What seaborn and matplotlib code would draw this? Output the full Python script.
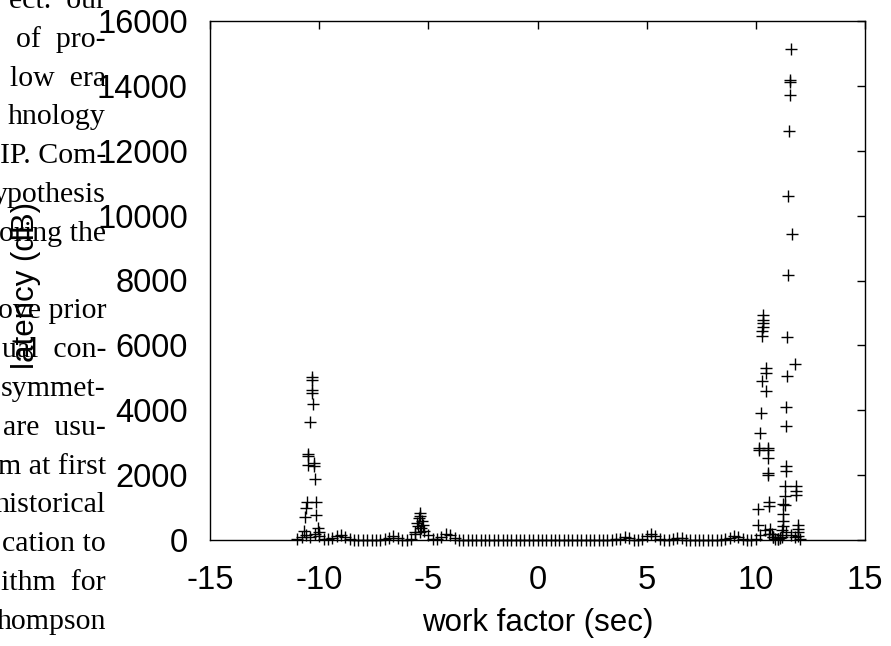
import matplotlib
matplotlib.use("Agg")
import matplotlib.pyplot as plt
import seaborn as sns
import pandas as pd

# ---------------- data ----------------
base_x = [-11.0, -10.8, -10.6, -10.4, -10.2, -10.0, -9.8, -9.6, -9.4, -9.2,
          -9.0, -8.8, -8.6, -8.4, -8.2, -8.0, -7.8, -7.6, -7.4, -7.2,
          -7.0, -6.8, -6.6, -6.4, -6.2, -6.0, -5.8, -5.6, -5.4, -5.2,
          -5.0, -4.8, -4.6, -4.4, -4.2, -4.0, -3.8, -3.6, -3.4, -3.2,
          -3.0, -2.8, -2.6, -2.4, -2.2, -2.0, -1.8, -1.6, -1.4, -1.2,
          -1.0, -0.8, -0.6, -0.4, -0.2, 0.0, 0.2, 0.4, 0.6, 0.8,
          1.0, 1.2, 1.4, 1.6, 1.8, 2.0, 2.2, 2.4, 2.6, 2.8,
          3.0, 3.2, 3.4, 3.6,
          3.8, 4.0, 4.2, 4.4, 4.6, 4.8, 5.0, 5.2, 5.4, 5.6,
          5.8, 6.0, 6.2, 6.4, 6.6, 6.8, 7.0, 7.2, 7.4, 7.6,
          7.8, 8.0, 8.2, 8.4, 8.6, 8.8, 9.0, 9.2, 9.4, 9.6,
          9.8, 10.0, 10.2, 10.4, 10.6, 10.8, 11.0, 11.2, 11.4, 11.6,
          11.8, 12.0]
base_y = [20, 80, 150, 100, 200, 120, 40, 20, 60, 130,
          150, 80, 20, 5, 0, 5, 0, 5, 0, 10,
          20, 70, 120, 60, 10, 0, 40, 180, 250, 280,
          150, 40, 30, 90, 170, 140, 50, 10, 0, 5,
          0, 5, 0, 5, 0, 10, 0, 5, 0, 5,
          0, 5, 0, 5, 0, 10, 0, 5, 0, 5,
          0, 5, 0, 5, 0, 10, 0, 5, 0, 5,
          0, 5, 10, 20,
          40, 80, 50, 10, 0, 40, 110, 170, 120, 40,
          10, 0, 30, 70, 50, 10, 0, 5, 0, 5,
          0, 5, 0, 10, 20, 60, 120, 80, 30, 10,
          10, 30, 150, 300, 200, 100, 30, 80, 250, 150,
          80, 40]

left_x = [-10.35, -10.35, -10.33, -10.35, -10.29, -10.42, -10.50, -10.50, -10.51, -10.24,
          -10.24, -10.20, -10.57, -10.13, -10.61, -10.65, -10.13, -10.70, -10.04, -10.02]
left_y = [5025, 4933, 4625, 4532, 4193, 3647, 2651, 2590, 2312, 2365,
          2281, 1871, 1181, 1181, 977, 700, 771, 287, 361, 256]

mid_x = [-5.37, -5.45, -5.29, -5.52, -5.24, -5.59, -5.40, -5.33, -5.48]
mid_y = [823, 669, 596, 514, 462, 256, 740, 380, 420]

right_x = [11.61, 11.57, 11.57, 11.55, 11.52, 11.47, 11.67, 11.47, 11.44, 11.79, 11.42,
           10.31, 10.31, 10.31, 10.31, 10.30, 10.30, 10.46, 10.46, 10.27, 10.46,
           10.23, 10.20, 10.16, 10.54, 10.16, 10.54, 10.58, 10.58, 10.58, 10.12,
           10.61, 10.61, 10.11,
           11.40, 11.38, 11.38, 11.38, 11.33, 11.32, 11.26, 11.26, 11.26, 11.33, 11.24, 11.22,
           11.86, 11.86, 11.86, 11.94, 11.94, 11.94, 11.94,
           10.65, 10.72, 10.80, 10.90, 11.00, 11.10, 11.18]
right_y = [15141, 14170, 14117, 13731, 12597, 10593, 9437, 8170, 6243, 5417, 5056,
           6924, 6795, 6684, 6573, 6440, 6299, 5306, 5142, 4890, 4594,
           3909, 3293, 2830, 2830, 2780, 2760, 2521, 2059, 2004, 959,
           1178, 1036, 462,
           4097, 3515, 2281, 2115, 1652, 1344, 1122, 792, 573, 1093, 420, 300,
           1652, 1511, 1400, 462, 350, 245, 132,
           350, 200, 100, 40, 20, 60, 150]

x_ticks = [-15, -10, -5, 0, 5, 10, 15]
y_ticks = [0, 2000, 4000, 6000, 8000, 10000, 12000, 14000, 16000]
x_label = "work factor (sec)"
y_label = "latency (dB)"

side_text = ["ect.  our", "of  pro-", "low  era", "hnology", "IP. Com-",
             "ypothesis", "oring the", "", "ove prior", "ual  con-",
             "symmet-", "are  usu-", "m at first", "historical", "cation to",
             "ithm  for", "hompson"]

# ---------------- plot ----------------
sns.set_theme(style="white")
plt.rcParams['font.family'] = ['Liberation Sans', 'DejaVu Sans']

W, H = 891, 646
fig = plt.figure(figsize=(W / 100, H / 100), dpi=100)
fig.patch.set_facecolor("white")

# background paper text (cut off at the left edge)
for i, line in enumerate(side_text):
    if not line:
        continue
    base = 8 + 38.8 * i
    fig.text(106 / W, 1 - base / H, line, ha="right", va="baseline",
             fontsize=21.5, family=["Liberation Serif", "DejaVu Serif"], color="black")

ax = fig.add_axes([210 / W, 1 - 540 / H, 655 / W, 519 / H])
ax.set_facecolor("none")

df = pd.DataFrame({"x": base_x + left_x + mid_x + right_x,
                   "y": base_y + left_y + mid_y + right_y})
sns.scatterplot(data=df, x="x", y="y", marker="+", color="black", s=75,
                linewidth=1.0, ax=ax, legend=False, clip_on=False, zorder=3)

ax.set_xlim(-15, 15)
ax.set_ylim(0, 16000)
ax.set_xticks(x_ticks)
ax.set_yticks(y_ticks)
ax.set_xticklabels([str(t) for t in x_ticks])
ax.set_yticklabels([str(t) for t in y_ticks])

for sp in ax.spines.values():
    sp.set_visible(True)
    sp.set_color("black")
    sp.set_linewidth(1.0)

ax.tick_params(axis="both", direction="in", length=6, width=1, colors="black",
               top=True, right=True, labelsize=23.5)
ax.tick_params(axis="x", pad=18)
ax.tick_params(axis="y", pad=16)

ax.set_xlabel(x_label, fontsize=22.5, color="black")
ax.set_ylabel(y_label, fontsize=22.5, color="black")
ax.xaxis.set_label_coords(0.5, (540 - 623) / 519)
ax.xaxis.label.set_va("center")
ax.yaxis.set_label_coords((26 - 210) / 655, 0.49)
ax.yaxis.label.set_va("center")

fig.savefig("out.png", dpi=100, facecolor="white")
